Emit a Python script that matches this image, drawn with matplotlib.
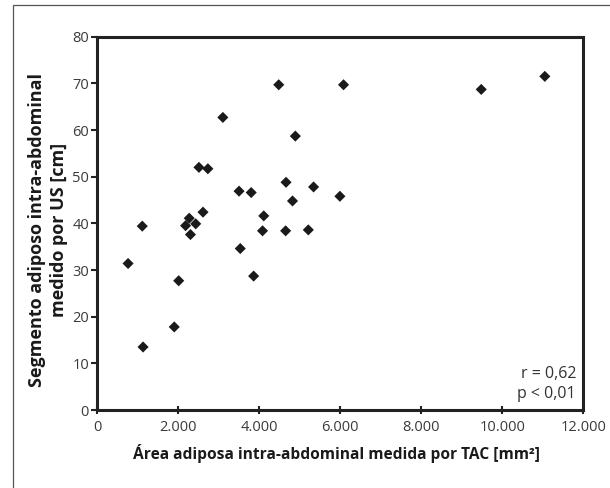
import matplotlib
matplotlib.use("Agg")
import matplotlib.pyplot as plt
from matplotlib.ticker import FuncFormatter
from matplotlib.patches import Rectangle

area_tac = [4480, 6080, 3100, 4890, 2510, 2730, 4660, 3500, 3800, 5340,
            5990, 4820, 2610, 4110, 2270, 1110, 2180, 2430, 2300, 4080,
            4650, 5210, 760, 3530, 3860, 2010, 1900, 1130, 9480, 11050]
segmento_us = [69.7, 69.7, 62.7, 58.7, 52.0, 51.7, 48.8, 46.9, 46.6, 47.8,
               45.8, 44.8, 42.4, 41.6, 41.1, 39.4, 39.5, 39.9, 37.6, 38.4,
               38.4, 38.6, 31.4, 34.6, 28.7, 27.7, 17.8, 13.5, 68.7, 71.5]
x_ticks = [0, 2000, 4000, 6000, 8000, 10000, 12000]
y_ticks = [0, 10, 20, 30, 40, 50, 60, 70, 80]
xlabel = "Área adiposa intra-abdominal medida por TAC [mm²]"
ylabel = "Segmento adiposo intra-abdominal\nmedido por US [cm]"
stats_text = "r = 0,62\np < 0,01"

plt.rcParams['font.family'] = ['Open Sans', 'DejaVu Sans']

fig = plt.figure(figsize=(6.1, 4.88), dpi=100)
fig.patch.set_facecolor('white')
# outer frame (top and left edges visible)
fig.patches.append(Rectangle((13/610, -0.1), 1.2, 1 - 5/488 + 0.1,
                             transform=fig.transFigure, fill=False,
                             edgecolor='#555555', linewidth=0.9))

ax = fig.add_axes([97.3/610, 78/488, (583.3-97.3)/610, (410-36.7)/488])
ax.scatter(area_tac, segmento_us, marker='D', s=32, color='#1a1a1a',
           edgecolors='none', zorder=3)
ax.set_xlim(0, 12000)
ax.set_ylim(0, 80)
ax.set_xticks(x_ticks)
ax.set_yticks(y_ticks)
ax.xaxis.set_major_formatter(FuncFormatter(lambda v, p: f"{int(v):,}".replace(",", ".")))
for sp in ax.spines.values():
    sp.set_linewidth(2.2)
    sp.set_color('#222222')
ax.tick_params(axis='x', direction='inout', length=6, width=1.5, color='#222222',
               labelsize=10.5, labelcolor='#3a3a3a', pad=4)
ax.tick_params(axis='y', direction='out', length=4, width=1.5, color='#222222',
               labelsize=10.5, labelcolor='#3a3a3a', pad=2)
ax.set_xlabel(xlabel, fontsize=11.2, fontweight='bold', color='#1a1a1a', labelpad=7)
ax.xaxis.label.set_x(0.493)
ax.set_ylabel(ylabel, fontsize=13, fontweight='bold', color='#1a1a1a', labelpad=3,
              linespacing=1.3)
ax.yaxis.label.set_y(0.4835)
ax.text(0.985, 0.022, stats_text, transform=ax.transAxes, ha='right', va='bottom',
        fontsize=11.5, color='#333333', linespacing=1.3)

fig.savefig("out.png", dpi=100)
